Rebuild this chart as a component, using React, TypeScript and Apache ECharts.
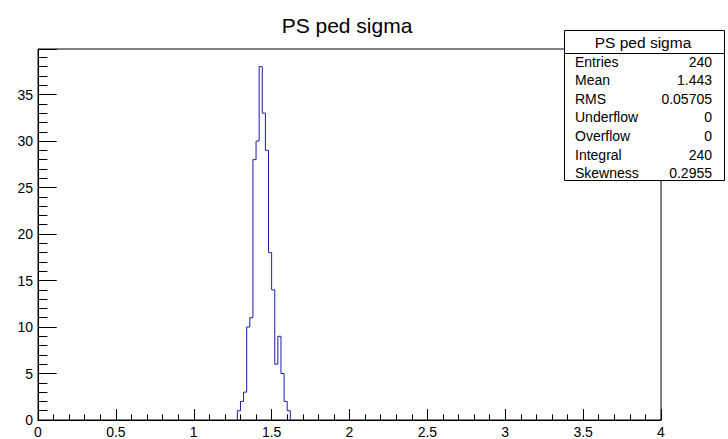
import React, { useEffect, useRef } from "react";
import * as echarts from "echarts";

// Histogram bin edges (low edges + final high edge) and counts
const binEdges = [1.28, 1.3, 1.32, 1.34, 1.36, 1.38, 1.4, 1.42, 1.44, 1.46, 1.48, 1.5, 1.52, 1.54, 1.56, 1.58, 1.6, 1.62];
const binCounts = [1, 2, 3, 10, 11, 28, 30, 38, 33, 29, 18, 14, 6, 9, 5, 2, 1];

const xTicks = [0, 0.5, 1, 1.5, 2, 2.5, 3, 3.5, 4];
const yTicks = [0, 5, 10, 15, 20, 25, 30, 35];

const title = "PS ped sigma";
const statNames = ["Entries", "Mean", "RMS", "Underflow", "Overflow", "Integral", "Skewness"];
const statValues = ["240", "1.443", "0.05705", "0", "0", "240", "0.2955"];

const FONT = "'Liberation Sans', Arial, Helvetica, sans-serif";

export default function App() {
  const ref = useRef<HTMLDivElement>(null);

  useEffect(() => {
    if (!ref.current) return;
    const chart = echarts.init(ref.current, null, { renderer: "svg" });

    const points: number[][] = [[binEdges[0], 0]];
    binCounts.forEach((c, i) => points.push([binEdges[i], c]));
    points.push([binEdges[binEdges.length - 1], 0]);

    const rowY = [61.5, 80, 98.7, 117.3, 136, 154.6, 173];

    const statTexts: any[] = [];
    statNames.forEach((n, i) => {
      statTexts.push({
        type: "text",
        z: 102,
        style: {
          x: 575,
          y: rowY[i],
          text: n,
          fill: "#000",
          font: `14px ${FONT}`,
          textAlign: "left",
          textVerticalAlign: "middle",
        },
      });
      statTexts.push({
        type: "text",
        z: 102,
        style: {
          x: 712,
          y: rowY[i],
          text: statValues[i],
          fill: "#000",
          font: `14px ${FONT}`,
          textAlign: "right",
          textVerticalAlign: "middle",
        },
      });
    });

    chart.setOption({
      animation: false,
      backgroundColor: "#ffffff",
      grid: {
        left: 38,
        right: 67,
        top: 49,
        bottom: 19,
        show: true,
        borderColor: "#000",
        borderWidth: 1,
        backgroundColor: "transparent",
      },
      xAxis: {
        type: "value",
        min: xTicks[0],
        max: xTicks[xTicks.length - 1],
        interval: 0.5,
        axisLine: { show: true, lineStyle: { color: "#000", width: 1 } },
        axisTick: { show: true, inside: true, length: 11, lineStyle: { color: "#000", width: 1 } },
        minorTick: { show: true, splitNumber: 5, length: 5.6, lineStyle: { color: "#000", width: 1 } },
        splitLine: { show: false },
        minorSplitLine: { show: false },
        axisLabel: {
          show: true,
          margin: 5,
          color: "#000",
          fontSize: 14,
          fontFamily: FONT,
          formatter: (v: number) => (xTicks.includes(v) ? String(v) : ""),
        },
      },
      yAxis: {
        type: "value",
        min: 0,
        max: 39.9,
        interval: 5,
        axisLine: { show: true, lineStyle: { color: "#000", width: 1 } },
        axisTick: { show: true, inside: true, length: 18.7, lineStyle: { color: "#000", width: 1 } },
        minorTick: { show: true, splitNumber: 5, length: 9.4, lineStyle: { color: "#000", width: 1 } },
        splitLine: { show: false },
        minorSplitLine: { show: false },
        axisLabel: {
          show: true,
          margin: 5,
          color: "#000",
          fontSize: 14,
          fontFamily: FONT,
          showMaxLabel: false,
          formatter: (v: number) => (yTicks.includes(v) ? String(v) : ""),
        },
      },
      series: [
        {
          type: "line",
          step: "end",
          data: points,
          symbol: "none",
          lineStyle: { color: "#1c1ca8", width: 1 },
          silent: true,
          z: 1,
        },
      ],
      graphic: [
        {
          type: "text",
          z: 100,
          style: {
            x: 347,
            y: 25,
            text: title,
            fill: "#000",
            font: `21px ${FONT}`,
            textAlign: "center",
            textVerticalAlign: "middle",
          },
        },
        {
          type: "rect",
          z: 100,
          shape: { x: 564.5, y: 30.5, width: 160, height: 150 },
          style: { fill: "#fff", stroke: "#000", lineWidth: 1 },
        },
        {
          type: "line",
          z: 101,
          shape: { x1: 564.5, y1: 53.5, x2: 724.5, y2: 53.5 },
          style: { stroke: "#000", lineWidth: 1 },
        },
        {
          type: "text",
          z: 102,
          style: {
            x: 643,
            y: 42,
            text: title,
            fill: "#000",
            font: `15.5px ${FONT}`,
            textAlign: "center",
            textVerticalAlign: "middle",
          },
        },
        ...statTexts,
      ],
    });

    return () => {
      chart.dispose();
    };
  }, []);

  return (
    <div
      ref={ref}
      style={{ position: "fixed", left: 0, top: 0, width: 728, height: 439, background: "#fff" }}
    />
  );
}
